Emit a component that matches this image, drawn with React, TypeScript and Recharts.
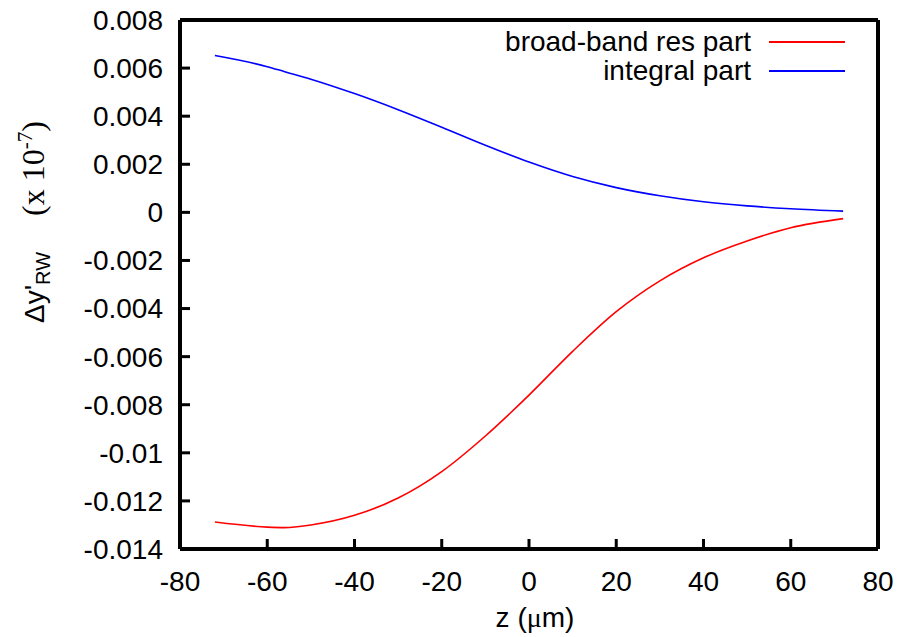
import { LineChart, Line, XAxis, YAxis } from 'recharts';

const zPos = [-72, -60, -56, -50, -40, -30, -20, -10, 0, 10, 20, 30, 40, 50, 60, 72];
const broadBand = [-0.01288, -0.01309, -0.01311, -0.013, -0.0126, -0.01188, -0.01078, -0.0093, -0.0076, -0.00578, -0.00413, -0.00285, -0.00189, -0.00119, -0.00064, -0.00026];
const integral = [0.00652, 0.00606, 0.00585, 0.00554, 0.00494, 0.00427, 0.00354, 0.00279, 0.00209, 0.00149, 0.00103, 0.00069, 0.00044, 0.00027, 0.00015, 0.00005];

const xTicks = [-80, -60, -40, -20, 0, 20, 40, 60, 80];
const yTicks = [-0.014, -0.012, -0.01, -0.008, -0.006, -0.004, -0.002, 0, 0.002, 0.004, 0.006, 0.008];

const legendItems = [
  { label: 'broad-band res part', color: '#ff0000' },
  { label: 'integral part', color: '#0000ff' },
];

const SANS = '"Liberation Sans", Arial, Helvetica, sans-serif';
const SERIF = '"Liberation Serif", "Times New Roman", serif';
const FONT = 28;

const data = zPos.map((z, i) => ({ z, broad: broadBand[i], integ: integral[i] }));

const fmt = (v: number) => String(Number(v.toFixed(3)));

const frame = { stroke: '#000', strokeWidth: 4 };
const tickStroke = { stroke: '#000', strokeWidth: 3 };
const tickText = { fill: '#000', fontSize: FONT, fontFamily: SANS };

function YLabel() {
  return (
    <text transform="rotate(-90 44 323)" x={44} y={323} fill="#000">
      <tspan fontFamily={SANS} fontSize={FONT}>Δy'</tspan>
      <tspan fontFamily={SANS} fontSize={20} dy={6}>RW</tspan>
      <tspan fontFamily={SERIF} fontSize={32} dy={-6} dx={36}>(x 10</tspan>
      <tspan fontFamily={SERIF} fontSize={21} dy={-12}>-7</tspan>
      <tspan fontFamily={SERIF} fontSize={32} dy={12}>)</tspan>
    </text>
  );
}

function XLabel(p: any) {
  const vb = p.viewBox;
  return (
    <text x={vb.x + vb.width / 2 + 6} y={vb.y + 78} textAnchor="middle" fill="#000" fontFamily={SANS} fontSize={FONT}>
      <tspan>z (</tspan>
      <tspan fontFamily={SERIF}>μ</tspan>
      <tspan>m)</tspan>
    </text>
  );
}

export default function App() {
  return (
    <div style={{ position: 'fixed', left: 0, top: 0, width: 899, height: 637, background: '#fff' }}>
      <LineChart width={899} height={637} data={data} margin={{ top: 19, right: 20, bottom: 0, left: 0 }}>
        <XAxis
          dataKey="z"
          type="number"
          domain={[-80, 80]}
          ticks={xTicks}
          height={88}
          tickSize={-10}
          tickMargin={32}
          tickLine={tickStroke}
          axisLine={frame}
          tick={tickText}
          label={{ content: (p: any) => <XLabel {...p} /> }}
        />
        <XAxis
          xAxisId="top"
          dataKey="z"
          type="number"
          orientation="top"
          domain={[-80, 80]}
          ticks={xTicks}
          height={1}
          tickSize={-10}
          tickLine={tickStroke}
          axisLine={frame}
          tick={false}
        />
        <YAxis
          type="number"
          domain={[-0.014, 0.008]}
          ticks={yTicks}
          width={180}
          tickSize={-10}
          tickMargin={27}
          tickLine={tickStroke}
          axisLine={frame}
          tick={tickText}
          tickFormatter={fmt}
          label={{ content: () => <YLabel /> }}
        />
        <YAxis
          yAxisId="right"
          type="number"
          orientation="right"
          domain={[-0.014, 0.008]}
          ticks={yTicks}
          width={1}
          tickSize={-10}
          tickLine={tickStroke}
          axisLine={frame}
          tick={false}
        />
        <Line type="monotone" dataKey="broad" name="broad-band res part" stroke="#ff0000" strokeWidth={1.6} dot={false} isAnimationActive={false} />
        <Line type="monotone" dataKey="integ" name="integral part" stroke="#0000ff" strokeWidth={1.6} dot={false} isAnimationActive={false} />
      </LineChart>
      <div style={{ position: 'absolute', top: 28, left: 415, width: 430, fontFamily: SANS, fontSize: FONT, lineHeight: '28.6px', color: '#000' }}>
        {legendItems.map((item) => (
          <div key={item.label} style={{ display: 'flex', alignItems: 'center', justifyContent: 'flex-end' }}>
            <span>{item.label}</span>
            <span style={{ display: 'inline-block', width: 76, height: 2, background: item.color, marginLeft: 18 }} />
          </div>
        ))}
      </div>
    </div>
  );
}
